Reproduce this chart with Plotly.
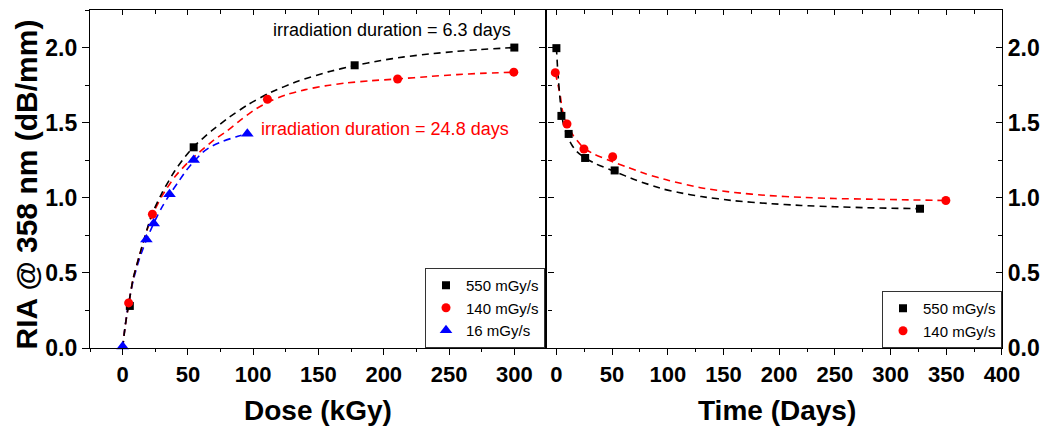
import plotly.graph_objects as go

# ---------------- data : left panel (RIA vs dose) ----------------
dose_550 = [5.5, 54.4, 177.7, 300.0]
ria_550 = [0.28, 1.336, 1.882, 2.0]
dose_140 = [4.6, 22.8, 110.9, 210.6, 299.6]
ria_140 = [0.30, 0.89, 1.656, 1.791, 1.836]
dose_16 = [0.0, 18.2, 23.8, 35.9, 54.4, 95.5]
ria_16 = [0.01, 0.722, 0.829, 1.023, 1.251, 1.427]

# fitted curves
fit_dose_550 = [0, 2, 5, 8, 13, 22, 30, 40, 48, 54.4, 68, 81.5, 96, 111.9, 134.7, 157.4,
                177.7, 197.9, 215.7, 235.9, 256.2, 273.9, 300]
fit_ria_550 = [0, 0.15, 0.31, 0.46, 0.62, 0.88, 1.03, 1.18, 1.275, 1.34, 1.445, 1.535, 1.62,
               1.695, 1.778, 1.838, 1.88, 1.914, 1.938, 1.958, 1.975, 1.987, 2.0]
fit_dose_140 = [0, 2, 5, 8, 13, 22, 30, 40, 50, 61, 70, 80, 90, 100, 110.9, 125, 140, 155,
                172, 190, 210.6, 236, 256, 274, 300]
fit_ria_140 = [0, 0.15, 0.31, 0.46, 0.62, 0.87, 1.01, 1.14, 1.235, 1.32, 1.385, 1.445, 1.515,
               1.58, 1.635, 1.685, 1.72, 1.745, 1.765, 1.779, 1.791, 1.808, 1.82, 1.828, 1.836]
fit_dose_16 = [0, 1.7, 4.0, 8.1, 13.1, 18.2, 23.8, 29.6, 35.9, 42.2, 48.6, 54.4, 61.0, 67.6,
               76.4, 86.6, 95.5]
fit_ria_16 = [0, 0.13, 0.27, 0.45, 0.60, 0.72, 0.83, 0.93, 1.02, 1.10, 1.18, 1.24, 1.30, 1.34,
              1.375, 1.405, 1.427]

# ---------------- data : right panel (recovery vs time) ----------------
time_550 = [0.0, 4.5, 11.0, 25.8, 52.3, 326.4]
rec_550 = [1.996, 1.545, 1.425, 1.265, 1.182, 0.927]
time_140 = [-1.0, 9.5, 24.7, 50.5, 349.6]
rec_140 = [1.833, 1.491, 1.325, 1.273, 0.982]

fit_time_550 = [0, 1, 2, 3, 4.5, 6, 8.3, 11, 14, 18, 25.8, 35.6, 52.3, 71.2, 95, 109.8, 130,
                160, 190, 219.6, 250, 278.9, 326.4]
fit_rec_550 = [2.0, 1.87, 1.77, 1.68, 1.57, 1.50, 1.44, 1.39, 1.35, 1.31, 1.265, 1.225, 1.175,
               1.118, 1.06, 1.035, 1.008, 0.98, 0.962, 0.949, 0.94, 0.934, 0.927]
fit_time_140 = [-1, 1.5, 3.6, 5.3, 9.5, 14.8, 24.7, 34.1, 50.5, 62.3, 80, 100.9, 130.6, 160,
                190, 220, 250, 278.9, 310, 349.6]
fit_rec_140 = [1.833, 1.751, 1.673, 1.585, 1.491, 1.418, 1.33, 1.29, 1.24, 1.207, 1.16, 1.115,
               1.065, 1.035, 1.015, 1.003, 0.995, 0.991, 0.987, 0.982]

legend_550 = "550 mGy/s"
legend_140 = "140 mGy/s"
legend_16 = "16 mGy/s"
note_fast = "irradiation duration = 6.3 days"
note_slow = "irradiation duration = 24.8 days"

# ---------------- layout geometry ----------------
W, H = 1050, 427
ML, MR, MT, MB = 90, 41, 10, 79
PW = W - ML - MR
PH = H - MT - MB


def dom(px):
    return (px - ML) / PW


def ypaper(py):
    return (H - MB - py) / PH


FONT = "Liberation Sans, Arial, sans-serif"
BLACK, RED, BLUE = "#000000", "#ff0000", "#0000ff"
DASH = "7px,5px"

fig = go.Figure()


def fit_line(x, y, color, xa, ya, width=1.6):
    fig.add_trace(go.Scatter(x=x, y=y, mode="lines", xaxis=xa, yaxis=ya,
                             line=dict(color=color, width=width, dash=DASH, shape="spline",
                                       smoothing=0.6),
                             showlegend=False, hoverinfo="skip"))


def pts(x, y, color, symbol, size, name, xa, ya, legend):
    fig.add_trace(go.Scatter(x=x, y=y, mode="markers", name=name, xaxis=xa, yaxis=ya,
                             marker=dict(color=color, symbol=symbol, size=size,
                                         line=dict(width=0)),
                             cliponaxis=False, legend=legend))


# left panel
fit_line(fit_dose_16, fit_ria_16, BLUE, "x", "y")
fit_line(fit_dose_140, fit_ria_140, RED, "x", "y")
fit_line(fit_dose_550, fit_ria_550, BLACK, "x", "y")
pts(dose_550, ria_550, BLACK, "square", 8, legend_550, "x", "y", "legend")
pts(dose_140, ria_140, RED, "circle", 9, legend_140, "x", "y", "legend")
pts(dose_16, ria_16, BLUE, "triangle-up", 11, legend_16, "x", "y", "legend")

# right panel
fit_line(fit_time_140, fit_rec_140, RED, "x2", "y2")
fit_line(fit_time_550, fit_rec_550, BLACK, "x2", "y2")
pts(time_550, rec_550, BLACK, "square", 8, legend_550, "x2", "y2", "legend2")
pts(time_140, rec_140, RED, "circle", 9, legend_140, "x2", "y2", "legend2")

# empty traces so that the mirror axes exist
for xa, ya in [("x3", "y"), ("x", "y3"), ("x4", "y2"), ("x2", "y4")]:
    fig.add_trace(go.Scatter(x=[None], y=[None], xaxis=xa, yaxis=ya, mode="markers",
                             showlegend=False, hoverinfo="skip"))

xtickfont = dict(family=FONT, size=22, color="black", weight="bold")
ytickfont = dict(family=FONT, size=23, color="black", weight="bold")
base = dict(showline=True, linecolor="black", linewidth=1.3, showgrid=False, zeroline=False,
            tickcolor="black", tickwidth=1.3)

xl_range = [-25, 323.5]
xr_range = [-8, 400]
y_range = [0, 2.25]

left_dom = [0, dom(548.5)]
right_dom = [dom(551), 1]

fig.update_layout(
    width=W, height=H,
    margin=dict(l=ML, r=MR, t=MT, b=MB, pad=0),
    paper_bgcolor="white", plot_bgcolor="white",
    font=dict(family=FONT, color="black"),
    xaxis=dict(base, domain=left_dom, anchor="y", range=xl_range, tickmode="linear", tick0=0,
               dtick=50, ticks="outside", ticklen=6, tickfont=xtickfont,
               minor=dict(ticks="outside", ticklen=3, tick0=0, dtick=25, tickcolor="black",
                          tickwidth=1.3)),
    xaxis3=dict(base, overlaying="x", side="top", anchor="y", range=xl_range, tickmode="linear",
                tick0=0, dtick=50, ticks="inside", ticklen=5, showticklabels=False,
                minor=dict(ticks="inside", ticklen=4, tick0=0, dtick=25, tickcolor="black",
                           tickwidth=1.3)),
    yaxis=dict(base, domain=[0, 1], anchor="x", range=y_range, tickmode="linear", tick0=0,
               dtick=0.5, tickformat=".1f", ticks="outside", ticklen=7, tickfont=ytickfont,
               minor=dict(ticks="outside", ticklen=4, tick0=0, dtick=0.25, tickcolor="black",
                          tickwidth=1.3)),
    yaxis3=dict(base, overlaying="y", side="right", anchor="x", range=y_range,
                tickmode="linear", tick0=0, dtick=0.5, ticks="inside", ticklen=6,
                showticklabels=False,
                minor=dict(ticks="inside", ticklen=4, tick0=0, dtick=0.25, tickcolor="black",
                           tickwidth=1.3)),
    xaxis2=dict(base, domain=right_dom, anchor="y2", range=xr_range, tickmode="linear", tick0=0,
                dtick=50, ticks="outside", ticklen=6, tickfont=xtickfont,
                minor=dict(ticks="outside", ticklen=3, tick0=0, dtick=25, tickcolor="black",
                           tickwidth=1.3)),
    xaxis4=dict(base, overlaying="x2", side="top", anchor="y2", range=xr_range,
                tickmode="linear", tick0=0, dtick=50, ticks="inside", ticklen=5,
                showticklabels=False,
                minor=dict(ticks="inside", ticklen=4, tick0=0, dtick=25, tickcolor="black",
                           tickwidth=1.3)),
    yaxis2=dict(base, domain=[0, 1], anchor="x2", side="right", range=y_range,
                tickmode="linear", tick0=0, dtick=0.5, tickformat=".1f", ticks="inside",
                ticklen=6, tickfont=ytickfont,
                minor=dict(ticks="inside", ticklen=4, tick0=0, dtick=0.25, tickcolor="black",
                           tickwidth=1.3)),
    yaxis4=dict(base, overlaying="y2", side="left", anchor="x2", range=y_range,
                tickmode="linear", tick0=0, dtick=0.5, ticks="inside", ticklen=6,
                showticklabels=False,
                minor=dict(ticks="inside", ticklen=4, tick0=0, dtick=0.25, tickcolor="black",
                           tickwidth=1.3)),
    legend=dict(x=dom(548.5), y=0, xanchor="right", yanchor="bottom", bgcolor="white",
                bordercolor="#333333", borderwidth=1, font=dict(family=FONT, size=15),
                tracegroupgap=0, itemwidth=30),
    legend2=dict(x=1, y=0, xanchor="right", yanchor="bottom", bgcolor="white",
                 bordercolor="#333333", borderwidth=1, font=dict(family=FONT, size=15),
                 tracegroupgap=0, itemwidth=30),
    showlegend=True,
)

annotations = [
    dict(text=note_fast, x=113.4, y=2.118, xref="x", yref="y", xanchor="left",
         yanchor="middle", showarrow=False, font=dict(family=FONT, size=18, color=BLACK)),
    dict(text=note_slow, x=104.3, y=1.458, xref="x", yref="y", xanchor="left",
         yanchor="middle", showarrow=False, font=dict(family=FONT, size=18, color=RED)),
    dict(text="RIA @ 358 nm (dB/mm)", x=dom(26), y=ypaper(184), xref="paper", yref="paper",
         textangle=-90, xanchor="center", yanchor="middle", showarrow=False,
         font=dict(family=FONT, size=30, color="black", weight="bold")),
    dict(text="Dose (kGy)", x=dom(320), y=ypaper(410), xref="paper", yref="paper",
         xanchor="center", yanchor="middle", showarrow=False,
         font=dict(family=FONT, size=28, color="black", weight="bold")),
    dict(text="Time (Days)", x=dom(782), y=ypaper(410), xref="paper", yref="paper",
         xanchor="center", yanchor="middle", showarrow=False,
         font=dict(family=FONT, size=28, color="black", weight="bold")),
]
fig.update_layout(annotations=annotations)

fig.write_html("out.html",
               config={"displayModeBar": False},
               post_script="document.body.style.margin='0';document.body.style.overflow='hidden';")
